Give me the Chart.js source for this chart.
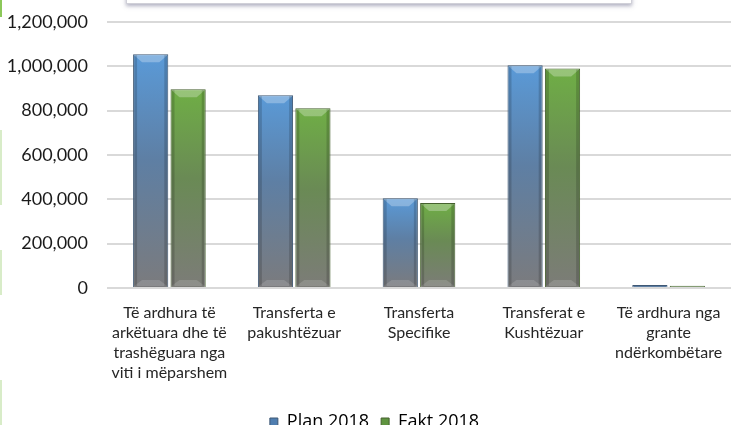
<!DOCTYPE html>
<html>
<head>
<meta charset="utf-8">
<script src="https://cdn.jsdelivr.net/npm/chart.js@4.4.1/dist/chart.umd.min.js"></script>
<style>
  html, body { margin: 0; padding: 0; background: #fff; overflow: hidden; }
  #wrap { position: relative; width: 731px; height: 441px; }
  #titleBox {
    position: absolute; left: 126px; top: -20px; width: 504px; height: 22px;
    background: #fff; border: 1px solid #d0d0d8;
    box-shadow: 0 2px 4px rgba(110, 110, 140, 0.55);
  }
  .edge { position: absolute; left: 0; width: 2px; background: #d8ecc8; }
</style>
</head>
<body>
<div id="wrap">
  <div class="edge" style="top:0;height:17px;background:#8cc85a"></div>
  <div class="edge" style="top:130px;height:75px"></div>
  <div class="edge" style="top:250px;height:45px"></div>
  <div class="edge" style="top:380px;height:45px"></div>
  <canvas id="chart" width="731" height="441"></canvas>
  <div id="titleBox"></div>
</div>
<script>
// Chart data
const categories = [
  ['Të ardhura të', 'arkëtuara dhe të', 'trashëguara nga', 'viti i mëparshem'],
  ['Transferta e', 'pakushtëzuar'],
  ['Transferta', 'Specifike'],
  ['Transferat e', 'Kushtëzuar'],
  ['Të ardhura nga', 'grante', 'ndërkombëtare']
];
const planValues = [1055000, 870000, 405000, 1005000, 13000];
const faktValues = [897000, 811000, 384000, 990000, 10000];
const seriesNames = ['Plan 2018', 'Fakt 2018'];
const yTicks = [0, 200000, 400000, 600000, 800000, 1000000, 1200000];

const palette = {
  plan: { top: '#5a9ad8', mid: '#5e7fa4', bottom: '#7b7b7d', edge: '#3f5874', legend: '#4f7eb0' },
  fakt: { top: '#6fae45', mid: '#6a8a55', bottom: '#7c7c78', edge: '#46612f', legend: '#5f9440' }
};

// Gradient per bar, from its own top down to the base
function barGradient(colors) {
  return function(context) {
    const chart = context.chart;
    if (!chart.chartArea || context.parsed === undefined) return colors.top;
    const yScale = chart.scales.y;
    const top = yScale.getPixelForValue(context.parsed.y);
    const base = yScale.getPixelForValue(0);
    if (base - top < 6) return colors.mid;
    const g = chart.ctx.createLinearGradient(0, top, 0, base);
    g.addColorStop(0, colors.top);
    g.addColorStop(0.45, colors.mid);
    g.addColorStop(1, colors.bottom);
    return g;
  };
}

// Draws the bevel highlights on top of each bar
const bevelPlugin = {
  id: 'bevel',
  afterDatasetsDraw(chart) {
    const ctx = chart.ctx;
    chart.data.datasets.forEach((ds, i) => {
      const meta = chart.getDatasetMeta(i);
      meta.data.forEach(bar => {
        const h = bar.base - bar.y;
        const left = bar.x - bar.width / 2;
        const right = bar.x + bar.width / 2;
        const b = 9;
        if (h < 2 * b + 2) return;
        ctx.save();
        // top face
        ctx.beginPath();
        ctx.moveTo(left + 1, bar.y + 1);
        ctx.lineTo(right - 1, bar.y + 1);
        ctx.lineTo(right - b, bar.y + b - 1);
        ctx.lineTo(left + b, bar.y + b - 1);
        ctx.closePath();
        ctx.fillStyle = 'rgba(255,255,255,0.28)';
        ctx.fill();
        // bottom face
        ctx.beginPath();
        ctx.moveTo(left + 1, bar.base - 1);
        ctx.lineTo(right - 1, bar.base - 1);
        ctx.lineTo(right - b, bar.base - b + 2);
        ctx.lineTo(left + b, bar.base - b + 2);
        ctx.closePath();
        ctx.fillStyle = 'rgba(255,255,255,0.14)';
        ctx.fill();
        // side shading
        ctx.fillStyle = 'rgba(0,0,0,0.16)';
        ctx.fillRect(left + 1, bar.y + 1, 3, h - 2);
        ctx.fillRect(right - 4, bar.y + 1, 3, h - 2);
        ctx.restore();
      });
    });
  }
};

// Nudge the legend a bit to the right, as in the original
const legendShift = {
  id: 'legendShift',
  afterLayout(chart) {
    if (chart.legend) chart.legend.left += 18;
  }
};

const ctx = document.getElementById('chart').getContext('2d');
new Chart(ctx, {
  type: 'bar',
  data: {
    labels: categories,
    datasets: [
      {
        label: seriesNames[0],
        data: planValues,
        backgroundColor: barGradient(palette.plan),
        borderColor: palette.plan.edge,
        borderWidth: 1,
        categoryPercentage: 0.6,
        barPercentage: 0.94
      },
      {
        label: seriesNames[1],
        data: faktValues,
        backgroundColor: barGradient(palette.fakt),
        borderColor: palette.fakt.edge,
        borderWidth: 1,
        categoryPercentage: 0.6,
        barPercentage: 0.94
      }
    ]
  },
  options: {
    responsive: false,
    animation: false,
    layout: { padding: { left: 0, right: 0, top: 22, bottom: 0 } },
    scales: {
      x: {
        grid: { display: false },
        border: { display: false },
        ticks: {
          color: '#262626',
          padding: 7,
          maxRotation: 0,
          autoSkip: false,
          font: { family: 'Lato', size: 16, lineHeight: 1.25 }
        },
        afterFit: function(scale) { scale.height = 113; }
      },
      y: {
        min: 0,
        max: 1200000,
        afterBuildTicks: function(scale) {
          scale.ticks = yTicks.map(v => ({ value: v }));
        },
        grid: { color: '#d9d9d9', lineWidth: 2, drawTicks: true, tickLength: 17, tickColor: 'rgba(0,0,0,0)' },
        border: { display: false },
        ticks: {
          color: '#1a1a1a',
          padding: 2,
          font: { family: 'Lato', size: 18 },
          callback: function(value) {
            return Number(value).toLocaleString('en-US');
          }
        },
        afterFit: function(scale) { scale.width = 107; }
      }
    },
    plugins: {
      legend: {
        position: 'bottom',
        labels: {
          color: '#595959',
          boxWidth: 8,
          boxHeight: 8,
          padding: 12,
          font: { family: 'Open Sans', size: 18 },
          generateLabels: function(chart) {
            return chart.data.datasets.map((ds, i) => ({
              text: ds.label,
              fillStyle: i === 0 ? palette.plan.legend : palette.fakt.legend,
              strokeStyle: i === 0 ? palette.plan.edge : palette.fakt.edge,
              lineWidth: 1,
              hidden: false,
              datasetIndex: i
            }));
          }
        }
      },
      tooltip: { enabled: false }
    }
  },
  plugins: [bevelPlugin, legendShift]
});
</script>
</body>
</html>
